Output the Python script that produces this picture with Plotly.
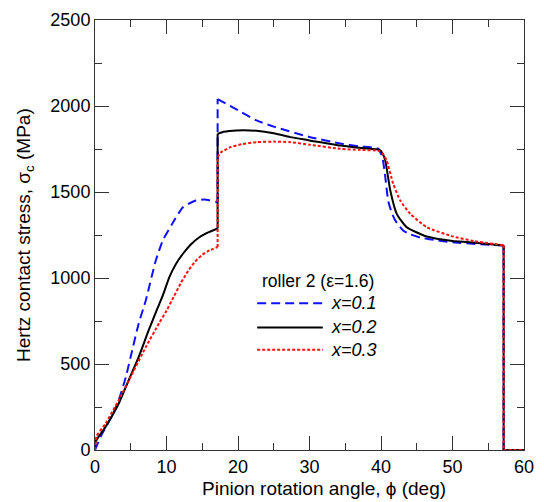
import plotly.graph_objects as go

# ---- data ----
x_01 = [0, 0.3, 1.0, 2.4, 3.3, 4.3, 5.2, 6.1, 7.1, 8.5, 9.5, 10.8, 12.3, 14.1, 15.3, 16.9, 17.15,
        17.15, 20, 22.6, 25, 30, 34.3, 37, 39.6, 40.2, 40.6, 41.0, 41.5, 42, 43.1, 44, 45.5, 48, 50, 54, 57.15,
        57.15, 60]
y_01 = [0, 30, 95, 200, 288, 423, 579, 734, 869, 1102, 1220, 1315, 1412, 1451, 1456, 1443, 1440,
        2040, 1975, 1916, 1880, 1820, 1782, 1765, 1752, 1700, 1586, 1450, 1380, 1334, 1276, 1255, 1235, 1218, 1208, 1196, 1189,
        0, 0]

x_02 = [0, 0.1, 1.45, 3.3, 4.7, 6.1, 7.5, 8.7, 9.5, 10.4, 11.3, 12.3, 13.4, 14.6, 16, 17.15,
        17.15, 18, 19.8, 22.6, 25, 27.3, 30, 34.3, 37, 39.8, 40.2, 40.6, 41.3, 42.2, 43.6, 46.4, 50, 52.4, 57.15,
        57.15, 60]
y_02 = [0, 50, 133, 269, 405, 540, 695, 820, 900, 1005, 1080, 1141, 1195, 1237, 1268, 1288,
        1838, 1850, 1858, 1856, 1842, 1819, 1800, 1770, 1757, 1745, 1725, 1683, 1509, 1373, 1295, 1241, 1215, 1208, 1189,
        0, 0]

x_03 = [0, 0.2, 1.45, 3.3, 5.2, 7.1, 9.0, 10.0, 11.0, 12.0, 13.0, 14.0, 15.0, 16.0, 17.15,
        17.15, 17.6, 18.9, 20.5, 22.6, 25, 27.3, 30, 34.3, 37, 39.8, 40.3, 40.8, 41.7, 42.7, 44.1, 46.4, 50.1, 53, 57.15,
        57.15, 60]
y_03 = [0, 80, 152, 288, 443, 598, 740, 810, 890, 970, 1040, 1095, 1135, 1160, 1180,
        1702, 1730, 1760, 1778, 1790, 1793, 1790, 1775, 1751, 1745, 1738, 1720, 1683, 1548, 1450, 1373, 1295, 1241, 1215, 1190,
        0, 0]

series_names = ["x=0.1", "x=0.2", "x=0.3"]
legend_title = "roller 2 (\u03b5=1.6)"
x_title = "Pinion rotation angle, \u03d5 (deg)"
y_title = "Hertz contact stress, \u03c3<sub>c</sub> (MPa)"

styles = [
    dict(color="#1010ff", width=2, dash="9px,5px"),
    dict(color="#000000", width=2, dash="solid"),
    dict(color="#ff1010", width=2, dash="3px,2px"),
]

FONT = "Liberation Sans, Arial, sans-serif"

fig = go.Figure()


def segments(xs, ys):
    """Split a series at vertical jumps (repeated x) into smooth pieces."""
    cuts = [0] + [i for i in range(1, len(xs)) if xs[i] == xs[i - 1]] + [len(xs)]
    return [(xs[a:b], ys[a:b]) for a, b in zip(cuts[:-1], cuts[1:])], cuts[1:-1]


for xs, ys, name, st in zip([x_01, x_02, x_03], [y_01, y_02, y_03], series_names, styles):
    pieces, jumps = segments(xs, ys)
    for px, py in pieces:
        fig.add_trace(go.Scatter(x=px, y=py, mode="lines", name=name, line=st,
                                 line_shape="spline", line_smoothing=0.5,
                                 showlegend=False, hoverinfo="skip"))
    for j in jumps:
        fig.add_trace(go.Scatter(x=xs[j - 1:j + 1], y=ys[j - 1:j + 1], mode="lines", name=name,
                                 line=st, showlegend=False, hoverinfo="skip"))

# manual legend (longer sample lines than plotly's built-in)
leg_x0, leg_x1, txt_x = 0.378, 0.531, 0.545
rows_y = [0.341, 0.285, 0.233]
fig.add_annotation(x=0.385, y=0.392, xref="paper", yref="paper", text=legend_title,
                   showarrow=False, xanchor="left", yanchor="middle",
                   font=dict(family=FONT, size=17.5, color="black"))
for yy, name, st in zip(rows_y, series_names, styles):
    fig.add_shape(type="line", xref="paper", yref="paper", x0=leg_x0, x1=leg_x1, y0=yy, y1=yy,
                  line=dict(color=st["color"], width=st["width"], dash=st["dash"]))
    fig.add_annotation(x=txt_x, y=yy, xref="paper", yref="paper", text="<i>" + name + "</i>",
                       showarrow=False, xanchor="left", yanchor="middle",
                       font=dict(family=FONT, size=18, color="black"))

# axis titles as annotations
fig.add_annotation(x=0.534, y=-0.09, xref="paper", yref="paper", text=x_title, showarrow=False,
                   xanchor="center", yanchor="middle", font=dict(family=FONT, size=19, color="black"))
fig.add_annotation(x=-0.163, y=0.5, xref="paper", yref="paper", text=y_title, showarrow=False,
                   textangle=-90, xanchor="center", yanchor="middle",
                   font=dict(family=FONT, size=19, color="black"))

tickfont = dict(family=FONT, size=18, color="black")
fig.update_layout(
    xaxis=dict(range=[0, 60], dtick=10, ticks="inside", ticklen=14, tickwidth=1.3, tickcolor="#333",
               showline=True, linecolor="#333", mirror="allticks", automargin=False,
               tickfont=tickfont,
               minor=dict(ticks="inside", ticklen=7, tickwidth=1.3, tickcolor="#333", dtick=5)),
    yaxis=dict(range=[0, 2500], dtick=500, ticks="inside", ticklen=14, tickwidth=1.3, tickcolor="#333",
               showline=True, linecolor="#333", mirror="allticks", automargin=False,
               tickfont=tickfont,
               minor=dict(ticks="inside", ticklen=7, tickwidth=1.3, tickcolor="#333", dtick=250)),
    width=536, height=494, margin=dict(l=87, r=20, t=12, b=52),
    plot_bgcolor="white", paper_bgcolor="white", showlegend=False,
)

fig.write_html("out.html")
